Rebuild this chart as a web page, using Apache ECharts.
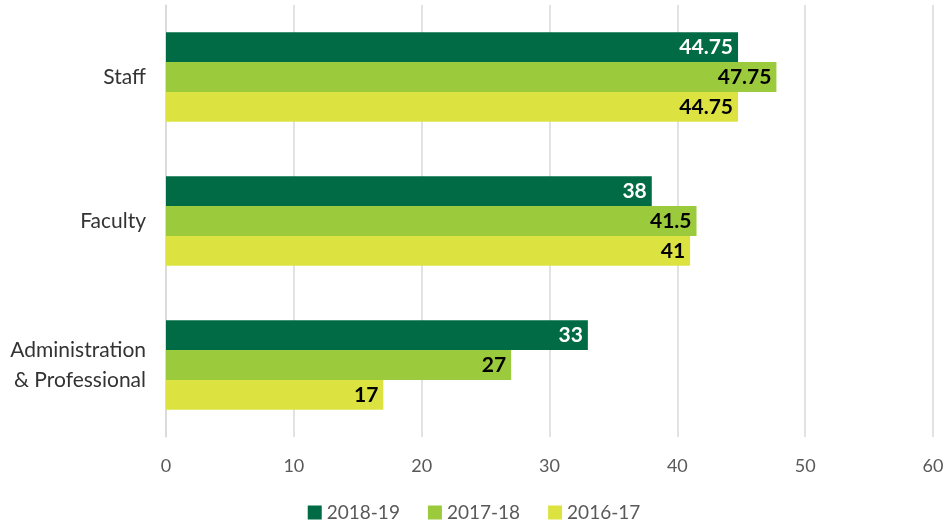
<!DOCTYPE html>
<html>
<head>
<meta charset="utf-8">
<script src="https://cdn.jsdelivr.net/npm/echarts@6/dist/echarts.min.js"></script>
<style>
html, body { margin: 0; padding: 0; background: #fff; }
#main { width: 948px; height: 529px; }
</style>
</head>
<body>
<div id="main"></div>
<script>
// categories, bottom to top as echarts draws them
var categories = ['Administration\n& Professional', 'Faculty', 'Staff'];
var years = ['2018-19', '2017-18', '2016-17'];
var v2018 = [33, 38, 44.75];
var v2017 = [27, 41.5, 47.75];
var v2016 = [17, 41, 44.75];
var xTicks = [0, 10, 20, 30, 40, 50, 60];

var colors = ['#006b45', '#9bcb3c', '#dce341'];
var labelColors = ['#ffffff', '#000000', '#000000'];
var font = 'Lato';

function makeSeries(name, data, idx) {
	return {
		name : name,
		type : 'bar',
		data : data,
		barGap : '0%',
		barCategoryGap : '38%',
		itemStyle : {
			color : colors[idx]
		},
		label : {
			show : true,
			position : 'insideRight',
			distance : 5,
			color : labelColors[idx],
			fontSize : 21,
			fontWeight : 'bold',
			fontFamily : font
		}
	};
}

var myChart = echarts.init(document.getElementById('main'));
var option = {
	animation : false,
	color : colors,
	grid : {
		left : 166,
		right : 15,
		top : 5,
		bottom : 92
	},
	legend : {
		data : years,
		bottom : 2,
		left : 'center',
		itemWidth : 14,
		itemHeight : 14,
		itemGap : 28,
		icon : 'rect',
		textStyle : {
			color : '#595959',
			fontSize : 19,
			fontFamily : font
		}
	},
	xAxis : {
		type : 'value',
		min : xTicks[0],
		max : xTicks[xTicks.length - 1],
		interval : 10,
		axisLine : { show : false },
		axisTick : { show : false },
		splitLine : {
			show : true,
			lineStyle : { color : '#d9d9d9', width : 1.5 }
		},
		axisLabel : {
			margin : 20,
			color : '#595959',
			fontSize : 18,
			fontFamily : font
		}
	},
	yAxis : {
		type : 'category',
		data : categories,
		axisTick : { show : false },
		axisLine : {
			show : true,
			lineStyle : { color : '#d9d9d9', width : 1.5 }
		},
		axisLabel : {
			margin : 20,
			color : '#333333',
			fontSize : 21,
			lineHeight : 30,
			fontFamily : font
		}
	},
	series : [
		makeSeries(years[0], v2018, 0),
		makeSeries(years[1], v2017, 1),
		makeSeries(years[2], v2016, 2)
	]
};
myChart.setOption(option);
</script>
</body>
</html>
